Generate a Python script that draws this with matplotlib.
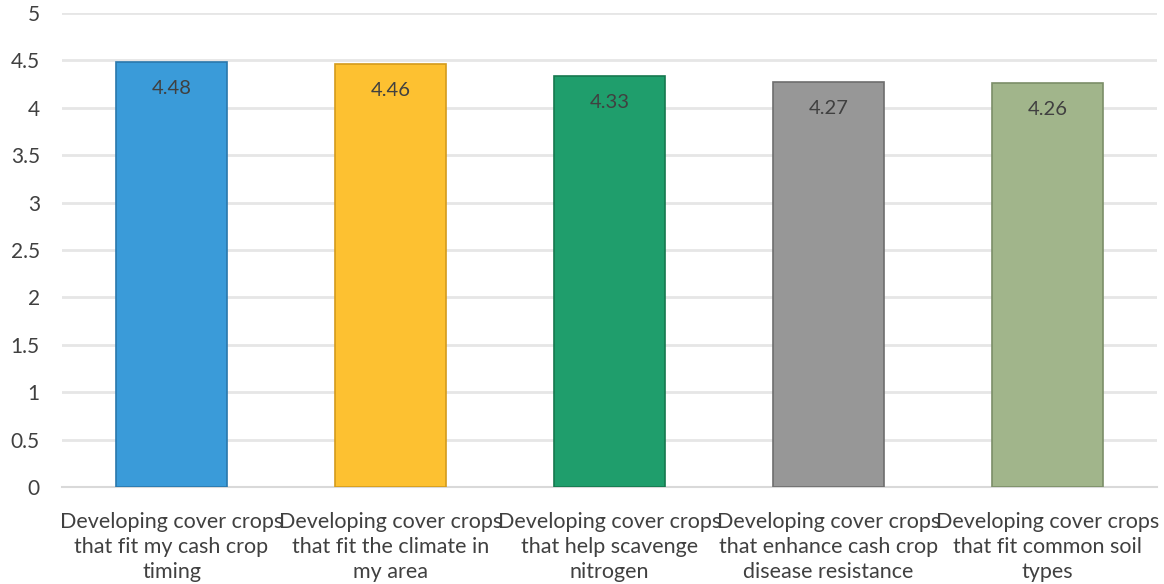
import matplotlib.pyplot as plt

plt.rcParams['font.family'] = ['Lato', 'DejaVu Sans']

categories = ["Developing cover crops\nthat fit my cash crop\ntiming",
              "Developing cover crops\nthat fit the climate in\nmy area",
              "Developing cover crops\nthat help scavenge\nnitrogen",
              "Developing cover crops\nthat enhance cash crop\ndisease resistance",
              "Developing cover crops\nthat fit common soil\ntypes"]
values = [4.48, 4.46, 4.33, 4.27, 4.26]
colors = ["#3A9BD9", "#FDC131", "#1F9E6C", "#979797", "#A1B58B"]
edges = ["#2A78AC", "#D49B1C", "#16784F", "#6E6E6E", "#7B8E68"]

fig = plt.figure(figsize=(11.64, 5.84), dpi=100)
ax = fig.add_axes([0.0533, 0.166, 0.9407, 0.812])

x = range(len(values))
ax.bar(x, values, width=0.51, color=colors, edgecolor=edges, linewidth=1.2, zorder=3)
for i, v in enumerate(values):
    ax.text(i, v - 0.28, f"{v:.2f}", ha="center", va="center", fontsize=14.5, color="#404040", zorder=4)

ax.set_xlim(-0.5, len(values) - 0.5)
ax.set_ylim(0, 5)
ax.set_yticks([0, 0.5, 1, 1.5, 2, 2.5, 3, 3.5, 4, 4.5, 5])
ax.set_yticklabels(["0", "0.5", "1", "1.5", "2", "2.5", "3", "3.5", "4", "4.5", "5"])
ax.set_xticks(list(x))
ax.set_xticklabels(categories, fontsize=15.5, color="#404040", linespacing=1.3)
ax.tick_params(axis="y", labelsize=15, labelcolor="#404040", length=0, pad=16)
ax.tick_params(axis="x", length=0, pad=18)
ax.grid(axis="y", color="#E6E6E6", linewidth=2, zorder=0)
for s in ["top", "right", "left"]:
    ax.spines[s].set_visible(False)
ax.spines["bottom"].set_color("#D9D9D9")
ax.spines["bottom"].set_linewidth(1.5)

fig.savefig("out.png", dpi=100)
